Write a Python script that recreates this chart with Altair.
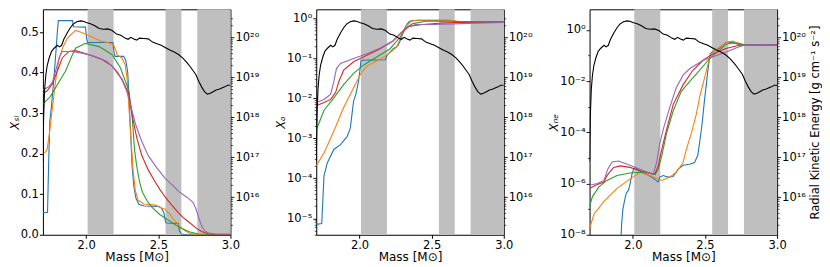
import altair as alt
import pandas as pd

NAMES = ["blue", "orange", "green", "red", "purple"]
COLORS = ["#1f77b4", "#ff7f0e", "#2ca02c", "#d62728", "#9467bd"]

band_start = [2.01, 2.55, 2.77]
band_end = [2.19, 2.66, 3.00]

x_ticks = [2.0, 2.5, 3.0]
si_ticks = [0.0, 0.1, 0.2, 0.3, 0.4, 0.5]

# ---- radial kinetic energy (log10 of g cm^-1 s^-2) ----
ke_m = [1.700, 1.705, 1.712, 1.720, 1.730, 1.745, 1.760, 1.776, 1.800, 1.815, 1.830, 1.845,
        1.870, 1.890, 1.910, 1.935, 1.960, 1.980, 2.000, 2.030, 2.060, 2.090, 2.120, 2.150,
        2.180, 2.210, 2.240, 2.270, 2.290, 2.310, 2.330, 2.350, 2.370, 2.400, 2.430, 2.460,
        2.490, 2.520, 2.550, 2.580, 2.610, 2.640, 2.670, 2.700, 2.720, 2.740, 2.760, 2.780,
        2.800, 2.820, 2.840, 2.860, 2.880, 2.900, 2.920, 2.940, 2.960, 2.980, 3.000]
ke_log = [16.9, 18.0, 18.7, 19.05, 19.3, 19.5, 19.65, 19.72, 19.8, 19.76, 19.8, 19.95,
          20.12, 20.24, 20.33, 20.39, 20.41, 20.40, 20.37, 20.34, 20.29, 20.22, 20.20, 20.21,
          20.17, 20.08, 20.05, 19.98, 19.95, 20.00, 19.96, 19.93, 19.98, 19.97, 19.96, 19.88,
          19.84, 19.80, 19.74, 19.68, 19.63, 19.57, 19.48, 19.36, 19.27, 19.17, 19.07, 18.90,
          18.76, 18.64, 18.58, 18.60, 18.64, 18.68, 18.70, 18.73, 18.76, 18.80, 18.80]

# ---- X_Si (linear) ----
si_blue_m = [1.700, 1.732, 1.740, 1.748, 1.760, 1.775, 1.790, 1.800, 1.807, 1.905, 1.912, 1.995,
             2.003, 2.010, 2.185, 2.193, 2.200, 2.260, 2.275, 2.288, 2.298, 2.308, 2.318, 2.330,
             2.345, 2.365, 2.400, 2.500, 2.520, 2.538, 2.548, 2.555, 2.638, 2.646, 2.660, 2.700, 3.000]
si_blue = [0.055, 0.055, 0.18, 0.28, 0.32, 0.38, 0.45, 0.50, 0.528, 0.528, 0.513, 0.512,
           0.485, 0.474, 0.474, 0.45, 0.44, 0.44, 0.43, 0.40, 0.33, 0.25, 0.17, 0.12,
           0.09, 0.075, 0.071, 0.070, 0.066, 0.055, 0.035, 0.029, 0.028, 0.01, 0.002, 0.0, 0.0]
si_orange_m = [1.700, 1.720, 1.730, 1.745, 1.755, 1.765, 1.788, 1.810, 1.835, 1.870, 1.926, 1.960,
               2.000, 2.050, 2.100, 2.150, 2.190, 2.205, 2.214, 2.248, 2.270, 2.285, 2.295, 2.310,
               2.325, 2.340, 2.360, 2.400, 2.480, 2.510, 2.546, 2.580, 2.615, 2.650, 2.685, 2.720,
               2.760, 3.000]
si_orange = [0.200, 0.205, 0.212, 0.250, 0.280, 0.310, 0.380, 0.430, 0.460, 0.485, 0.504, 0.500,
             0.494, 0.486, 0.478, 0.474, 0.468, 0.455, 0.444, 0.436, 0.420, 0.380, 0.320, 0.240,
             0.160, 0.110, 0.085, 0.076, 0.073, 0.068, 0.063, 0.050, 0.034, 0.020, 0.010, 0.003,
             0.001, 0.000]
si_green_m = [1.700, 1.750, 1.800, 1.857, 1.900, 1.926, 1.995, 2.090, 2.180, 2.237, 2.295, 2.317,
              2.335, 2.350, 2.370, 2.390, 2.420, 2.455, 2.510, 2.570, 2.620, 2.660, 2.720, 2.780,
              2.850, 3.000]
si_green = [0.323, 0.340, 0.370, 0.404, 0.440, 0.460, 0.472, 0.464, 0.444, 0.412, 0.356, 0.300,
            0.210, 0.170, 0.130, 0.105, 0.085, 0.068, 0.050, 0.036, 0.024, 0.016, 0.007, 0.002,
            0.0005, 0.0]
si_red_m = [1.700, 1.730, 1.765, 1.800, 1.834, 1.880, 1.926, 2.020, 2.110, 2.180, 2.248, 2.295,
            2.315, 2.350, 2.385, 2.430, 2.470, 2.510, 2.550, 2.593, 2.640, 2.670, 2.710, 2.760,
            2.800, 2.850, 2.900, 3.000]
si_red = [0.348, 0.355, 0.372, 0.404, 0.436, 0.452, 0.454, 0.444, 0.432, 0.416, 0.384, 0.348,
          0.300, 0.240, 0.196, 0.160, 0.135, 0.112, 0.092, 0.073, 0.054, 0.043, 0.032, 0.017,
          0.008, 0.002, 0.0005, 0.0]
si_purple_m = [1.700, 1.740, 1.765, 1.785, 1.800, 1.815, 1.834, 1.900, 1.970, 2.030, 2.090, 2.140,
               2.180, 2.220, 2.250, 2.280, 2.305, 2.340, 2.380, 2.430, 2.490, 2.547, 2.600, 2.640,
               2.700, 2.740, 2.760, 2.780, 2.800, 2.820, 2.850, 2.900, 3.000]
si_purple = [0.357, 0.365, 0.376, 0.400, 0.420, 0.440, 0.452, 0.452, 0.448, 0.443, 0.436, 0.428,
             0.416, 0.400, 0.380, 0.355, 0.324, 0.275, 0.235, 0.195, 0.165, 0.139, 0.122, 0.107,
             0.092, 0.080, 0.065, 0.042, 0.022, 0.010, 0.004, 0.002, 0.002]

# ---- X_O (log10) ----
o_blue_m = [1.700, 1.738, 1.745, 1.754, 1.777, 1.822, 1.868, 1.914, 1.936, 1.948, 1.959, 1.975,
            1.993, 2.003, 2.010, 2.180, 2.190, 2.232, 2.267, 2.290, 2.310, 2.330, 2.347, 2.370,
            2.640, 2.680, 2.750, 3.000]
o_blue = [-5.15, -5.13, -4.6, -3.93, -3.61, -3.28, -3.16, -2.96, -2.75, -2.39, -2.07, -1.9,
          -1.58, -1.3, -1.05, -1.04, -0.93, -0.77, -0.69, -0.49, -0.28, -0.15, -0.08, -0.06,
          -0.06, -0.09, -0.10, -0.10]
o_orange_m = [1.700, 1.754, 1.800, 1.834, 1.890, 1.959, 2.016, 2.060, 2.119, 2.187, 2.255, 2.290,
              2.324, 2.358, 2.400, 2.620, 2.700, 3.000]
o_orange = [-3.69, -3.36, -3.0, -2.72, -2.23, -1.74, -1.34, -1.18, -1.07, -0.93, -0.73, -0.45,
            -0.20, -0.08, -0.05, -0.05, -0.09, -0.09]
o_green_m = [1.700, 1.754, 1.822, 1.890, 1.959, 2.027, 2.119, 2.210, 2.278, 2.324, 2.370, 2.460,
             2.640, 2.750, 3.000]
o_green = [-2.80, -2.30, -1.99, -1.66, -1.38, -1.175, -0.97, -0.77, -0.49, -0.24, -0.137, -0.08,
           -0.08, -0.10, -0.10]
o_red_m = [1.700, 1.754, 1.800, 1.834, 1.857, 1.890, 1.959, 2.050, 2.140, 2.232, 2.290, 2.347,
           2.437, 2.574, 2.757, 3.000]
o_red = [-2.19, -2.11, -2.03, -1.86, -1.58, -1.30, -1.09, -0.93, -0.77, -0.57, -0.36, -0.20,
         -0.16, -0.12, -0.10, -0.10]
o_purple_m = [1.700, 1.754, 1.800, 1.822, 1.840, 1.868, 1.959, 2.050, 2.140, 2.232, 2.278, 2.324,
              2.390, 2.527, 2.757, 3.000]
o_purple = [-2.11, -2.03, -1.90, -1.58, -1.26, -1.13, -1.01, -0.89, -0.75, -0.57, -0.41, -0.24,
            -0.16, -0.16, -0.13, -0.11]

# ---- X_Ne (log10) ----
ne_blue_m = [1.915, 1.922, 1.931, 1.945, 1.954, 1.970, 1.981, 1.995, 2.005, 2.016, 2.040, 2.062,
             2.100, 2.130, 2.176, 2.187, 2.210, 2.244, 2.280, 2.300, 2.314, 2.348, 2.393, 2.428,
             2.450, 2.462, 2.475, 2.485, 2.496, 2.510, 2.519, 2.535, 2.550, 2.600, 2.630, 2.645,
             2.670, 2.700, 2.730, 2.760, 3.000]
ne_blue = [-8.5, -7.6, -7.0, -6.6, -6.38, -6.26, -6.0, -5.6, -5.44, -5.37, -5.47, -5.56,
           -5.66, -5.75, -5.94, -5.75, -5.69, -5.75, -5.73, -5.55, -5.44, -5.29, -5.25, -5.18,
           -4.9, -4.43, -3.9, -3.4, -2.78, -2.1, -1.64, -0.95, -0.86, -0.72, -0.58, -0.5,
           -0.48, -0.5, -0.56, -0.59, -0.59]
ne_orange_m = [1.700, 1.730, 1.800, 1.890, 1.982, 2.050, 2.119, 2.200, 2.256, 2.300, 2.348, 2.370,
               2.405, 2.440, 2.462, 2.496, 2.530, 2.565, 2.645, 2.690, 2.737, 2.780, 3.000]
ne_orange = [-7.77, -7.2, -6.7, -6.19, -5.82, -5.56, -5.69, -5.88, -5.75, -5.56, -5.18, -4.68,
             -4.05, -3.29, -2.65, -1.9, -1.14, -0.82, -0.51, -0.44, -0.53, -0.59, -0.59]
ne_green_m = [1.700, 1.720, 1.765, 1.820, 1.890, 1.980, 2.050, 2.119, 2.153, 2.176, 2.200, 2.233,
              2.280, 2.336, 2.393, 2.462, 2.530, 2.580, 2.645, 2.690, 2.760, 3.000]
ne_green = [-6.89, -6.51, -6.13, -5.88, -5.69, -5.59, -5.56, -5.6, -5.65, -5.44, -4.93, -4.05,
            -3.16, -2.4, -2.02, -1.58, -1.14, -0.89, -0.57, -0.51, -0.57, -0.59]
ne_red_m = [1.700, 1.753, 1.800, 1.820, 1.867, 1.913, 1.980, 2.050, 2.119, 2.153, 2.176, 2.200,
            2.233, 2.280, 2.348, 2.416, 2.485, 2.550, 2.645, 2.737, 3.000]
ne_red = [-6.19, -6.04, -5.94, -5.69, -5.37, -5.31, -5.37, -5.5, -5.59, -5.63, -5.31, -4.68,
          -3.92, -2.91, -2.15, -1.58, -1.2, -0.95, -0.73, -0.6, -0.59]
ne_purple_m = [1.700, 1.753, 1.800, 1.826, 1.856, 1.900, 1.980, 2.050, 2.119, 2.140, 2.165, 2.187,
               2.215, 2.256, 2.300, 2.348, 2.393, 2.485, 2.576, 2.668, 2.737, 2.780, 3.000]
ne_purple = [-6.07, -6.0, -5.88, -5.44, -5.16, -5.12, -5.29, -5.44, -5.6, -5.65, -5.18, -4.43,
             -3.8, -3.03, -2.27, -1.77, -1.52, -1.2, -1.01, -0.82, -0.66, -0.59, -0.59]

# ---------------- build tables ----------------
def long_table(pairs, log=False):
    rows = []
    for name, (ms, vs) in zip(NAMES, pairs):
        for i, (m, v) in enumerate(zip(ms, vs)):
            rows.append({"series": name, "idx": i, "mass": m,
                         "value": (10.0 ** v) if log else v})
    return pd.DataFrame(rows)

si_df = long_table([(si_blue_m, si_blue), (si_orange_m, si_orange), (si_green_m, si_green),
                    (si_red_m, si_red), (si_purple_m, si_purple)])
o_df = long_table([(o_blue_m, o_blue), (o_orange_m, o_orange), (o_green_m, o_green),
                   (o_red_m, o_red), (o_purple_m, o_purple)], log=True)
ne_df = long_table([(ne_blue_m, ne_blue), (ne_orange_m, ne_orange), (ne_green_m, ne_green),
                    (ne_red_m, ne_red), (ne_purple_m, ne_purple)], log=True)
ke_df = pd.DataFrame({"mass": ke_m, "energy": [10.0 ** v for v in ke_log],
                      "idx": list(range(len(ke_m)))})
bands_df = pd.DataFrame({"start": band_start, "end": band_end})

SUP = str.maketrans("0123456789-", "⁰¹²³⁴⁵⁶⁷⁸⁹⁻")
LG = "log(datum.value)/LN10"
FS = 11.5


def is_exp(e):
    return f"abs({LG}-({e}))<0.01"


def label_expr(exps):
    parts = [f"{is_exp(e)} ? '10{str(e).translate(SUP)}'" for e in exps]
    return " : ".join(parts) + " : ''"


def major_test(exps):
    return "(" + " || ".join(is_exp(e) for e in exps) + ")"


def log_values(lo, hi, dmin, dmax, minors=True):
    vals = []
    for k in range(lo, hi + 1):
        for m in (range(1, 10) if minors else [1]):
            v = m * 10.0 ** k
            if dmin <= v <= dmax:
                vals.append(v)
    return vals


def log_axis(orient, values, exps, title=None, extra=None):
    mt = major_test(exps)
    kw = dict(orient=orient, values=values, labelExpr=label_expr(exps),
              tickSize={"condition": {"test": mt, "value": 3.5}, "value": 2.0},
              tickWidth={"condition": {"test": mt, "value": 0.9}, "value": 0.7},
              labelOverlap=False, grid=False, title=title, labelPadding=1)
    if extra:
        kw.update(extra)
    return alt.Axis(**kw)


KE_DOM = [10 ** 15.06, 10 ** 20.7]
ke_vals = log_values(15, 20, KE_DOM[0], 3.1e20)
ke_exps = [16, 17, 18, 19, 20]

X_SCALE = alt.Scale(domain=[1.7, 3.0], nice=False, zero=False)
X_AXIS = alt.Axis(values=x_ticks, format=".1f", title="Mass [M⊙]", labelFlush=False,
                  grid=False, tickSize=3.5, labelOverlap=False, labelPadding=1, titlePadding=1,
                  titleFontSize=12)

H = 226


def panel(df, y_scale, y_axis, width, right_title=None):
    bands = alt.Chart(bands_df).mark_rect(color="#bfbfbf").encode(
        x=alt.X("start:Q", scale=X_SCALE, axis=X_AXIS), x2="end:Q")
    lines = alt.Chart(df).mark_line(strokeWidth=1.1, clip=True).encode(
        x=alt.X("mass:Q", scale=X_SCALE, axis=X_AXIS),
        y=alt.Y("value:Q", scale=y_scale, axis=y_axis),
        color=alt.Color("series:N", scale=alt.Scale(domain=NAMES, range=COLORS), legend=None),
        order=alt.Order("idx:Q"))
    extra = ({"titleAngle": 270, "titleBaseline": "top", "titlePadding": 4}
             if right_title else None)
    black = alt.Chart(ke_df).mark_line(strokeWidth=1.1, color="black", clip=True).encode(
        x=alt.X("mass:Q", scale=X_SCALE, axis=X_AXIS),
        y=alt.Y("energy:Q", scale=alt.Scale(type="log", domain=KE_DOM, nice=False),
                axis=log_axis("right", ke_vals, ke_exps, title=right_title, extra=extra)),
        order=alt.Order("idx:Q"))
    return alt.layer(bands, lines, black).resolve_scale(y="independent").properties(
        width=width, height=H)


p1 = panel(si_df, alt.Scale(domain=[0, 0.556], nice=False, zero=False),
           alt.Axis(orient="left", values=si_ticks, format=".1f", title="Xₛᵢ",
                    titleFontStyle="italic", grid=False, tickSize=3.5, titlePadding=0,
                    labelPadding=1, labelOverlap=False), 188)

O_DOM = [10 ** -5.41, 10 ** 0.22]
p2 = panel(o_df, alt.Scale(type="log", domain=O_DOM, nice=False),
           log_axis("left", log_values(-6, 0, O_DOM[0], O_DOM[1]), [0, -1, -2, -3, -4, -5],
                    title="Xₒ", extra={"titleFontStyle": "italic", "titlePadding": 0}), 188)

NE_DOM = [1e-8, 10 ** 0.8]
p3 = panel(ne_df, alt.Scale(type="log", domain=NE_DOM, nice=False),
           log_axis("left", log_values(-8, 0, NE_DOM[0], NE_DOM[1], minors=False),
                    [0, -2, -4, -6, -8], title="Xₙₑ",
                    extra={"titleFontStyle": "italic", "titlePadding": 0}), 188,
           right_title="Radial Kinetic Energy [g cm⁻¹ s⁻²]")

chart = alt.hconcat(p1, p2, p3, spacing=86, bounds="flush").properties(
    padding={"left": 0, "top": 0, "right": 0, "bottom": 0}
).configure(font="DejaVu Sans").configure_view(
    stroke="black", strokeWidth=1
).configure_axis(
    labelFont="DejaVu Sans", titleFont="DejaVu Sans", labelFontSize=FS, titleFontSize=FS,
    labelColor="black", titleColor="black", tickColor="black", domain=False,
    titleFontWeight="normal"
)

chart.save("out.html", embed_options={"renderer": "svg", "actions": False})
